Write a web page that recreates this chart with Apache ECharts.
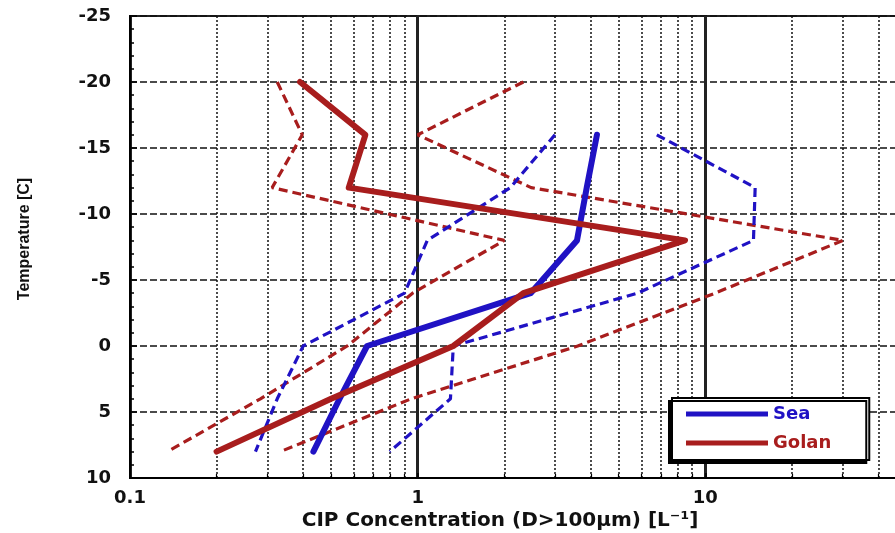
<!DOCTYPE html>
<html>
<head>
<meta charset="utf-8">
<script src="https://cdn.jsdelivr.net/npm/echarts@6/dist/echarts.min.js"></script>
<style>html,body{margin:0;padding:0;background:#fff;}#c{width:895px;height:533px;}</style>
</head>
<body>
<div id="c"></div>
<script>
// Temperatures (°C)
var golanTemps = [-20, -16, -12, -8, -4, 0, 4, 8];
var seaTemps = [-16, -12, -8, -4, 0, 4, 8];
// CIP concentration (L^-1)
var seaMedian = [4.2, 3.87, 3.58, 2.47, 0.667, 0.535, 0.434];
var seaLow = [3.0, 2.1, 1.08, 0.90, 0.40, 0.325, 0.273];
var seaHigh = [6.78, 14.9, 14.7, 5.8, 1.33, 1.30, 0.80];
var golanMedian = [0.39, 0.658, 0.576, 8.5, 2.33, 1.33, 0.50, 0.20];
var golanLow = [0.325, 0.397, 0.312, 2.0, 0.96, 0.569, 0.284, 0.135];
var golanHigh = [2.33, 1.0, 2.48, 30.1, 10.8, 3.6, 0.95, 0.333];
// Axis ticks
var yTicks = {min: -25, max: 10, interval: 5};
var xRange = {min: 0.1, max: 100};

var BLUE = '#2012c4';
var RED = '#a81d1d';

function pts(xs, ts) { return xs.map(function (v, i) { return [v, ts[i]]; }); }

function lineSeries(name, xs, ts, color, dashed) {
  return {
    name: name, type: 'line', symbol: 'none', smooth: false, silent: true,
    data: pts(xs, ts),
    lineStyle: dashed ? {color: color, width: 3.2, type: [9, 5]} : {color: color, width: 6, cap: 'round', join: 'round'},
    itemStyle: {color: color},
    z: dashed ? 3 : 4
  };
}

var chart = echarts.init(document.getElementById('c'), null, {renderer: 'canvas'});
chart.setOption({
  animation: false,
  backgroundColor: '#fff',
  grid: {left: 130, top: 16, bottom: 55, right: -98, show: true, borderColor: '#222', borderWidth: 2, backgroundColor: 'transparent', containLabel: false, outerBoundsMode: 'none'},
  xAxis: {
    type: 'log', logBase: 10, min: xRange.min, max: xRange.max,
    axisLine: {show: true, onZero: false, lineStyle: {color: '#000', width: 2}},
    axisTick: {show: true, inside: true, length: 5, lineStyle: {color: '#000', width: 1.5}},
    minorTick: {show: true, splitNumber: 9, length: 4, lineStyle: {color: '#000', width: 1.2}},
    splitLine: {show: true, lineStyle: {color: '#222', width: 3, type: 'solid'}},
    minorSplitLine: {show: true, lineStyle: {color: '#111', width: 1.5, type: [2, 2]}},
    axisLabel: {color: '#111', fontFamily: 'DejaVu Sans', fontWeight: 'bold', fontSize: 18, margin: 11, showMaxLabel: false}
  },
  yAxis: {
    type: 'value', inverse: true, min: yTicks.min, max: yTicks.max, interval: yTicks.interval,
    axisLine: {show: true, onZero: false, lineStyle: {color: '#000', width: 2}},
    axisTick: {show: true, inside: true, length: 7, lineStyle: {color: '#000', width: 1.5}},
    minorTick: {show: true, splitNumber: 5, length: 4, lineStyle: {color: '#000', width: 1.5}},
    splitLine: {show: true, lineStyle: {color: '#111', width: 1.5, type: [7, 3]}},
    axisLabel: {color: '#111', fontFamily: 'DejaVu Sans', fontWeight: 'bold', fontSize: 18, margin: 19}
  },
  legend: {
    orient: 'vertical', left: 672, top: 398,
    data: [
      {name: 'Sea', textStyle: {color: BLUE}},
      {name: 'Golan', textStyle: {color: RED}}
    ],
    icon: 'rect', itemWidth: 82, itemHeight: 5, itemGap: 11,
    padding: [7, 38, 8, 14],
    backgroundColor: '#fff', borderColor: '#000', borderWidth: 2,
    shadowColor: '#000', shadowBlur: 0, shadowOffsetX: -3, shadowOffsetY: 3,
    textStyle: {fontFamily: 'DejaVu Sans', fontWeight: 'bold', fontSize: 18},
    selectedMode: false
  },
  graphic: [
    {type: 'text', x: 25, y: 239, rotation: Math.PI / 2,
     style: {text: 'Temperature [C]', font: 'bold 16px "Liberation Sans", Arial, sans-serif', fill: '#111', align: 'center', verticalAlign: 'middle'}},
    {type: 'text', x: 500, y: 521,
     style: {text: 'CIP Concentration (D>100µm) [L⁻¹]', font: 'bold 20px "DejaVu Sans", sans-serif', fill: '#111', align: 'center', verticalAlign: 'middle'}}
  ],
  series: [
    lineSeries('Golan low', golanLow, golanTemps, RED, true),
    lineSeries('Golan high', golanHigh, golanTemps, RED, true),
    lineSeries('Sea low', seaLow, seaTemps, BLUE, true),
    lineSeries('Sea high', seaHigh, seaTemps, BLUE, true),
    lineSeries('Sea', seaMedian, seaTemps, BLUE, false),
    lineSeries('Golan', golanMedian, golanTemps, RED, false)
  ]
});
</script>
</body>
</html>
